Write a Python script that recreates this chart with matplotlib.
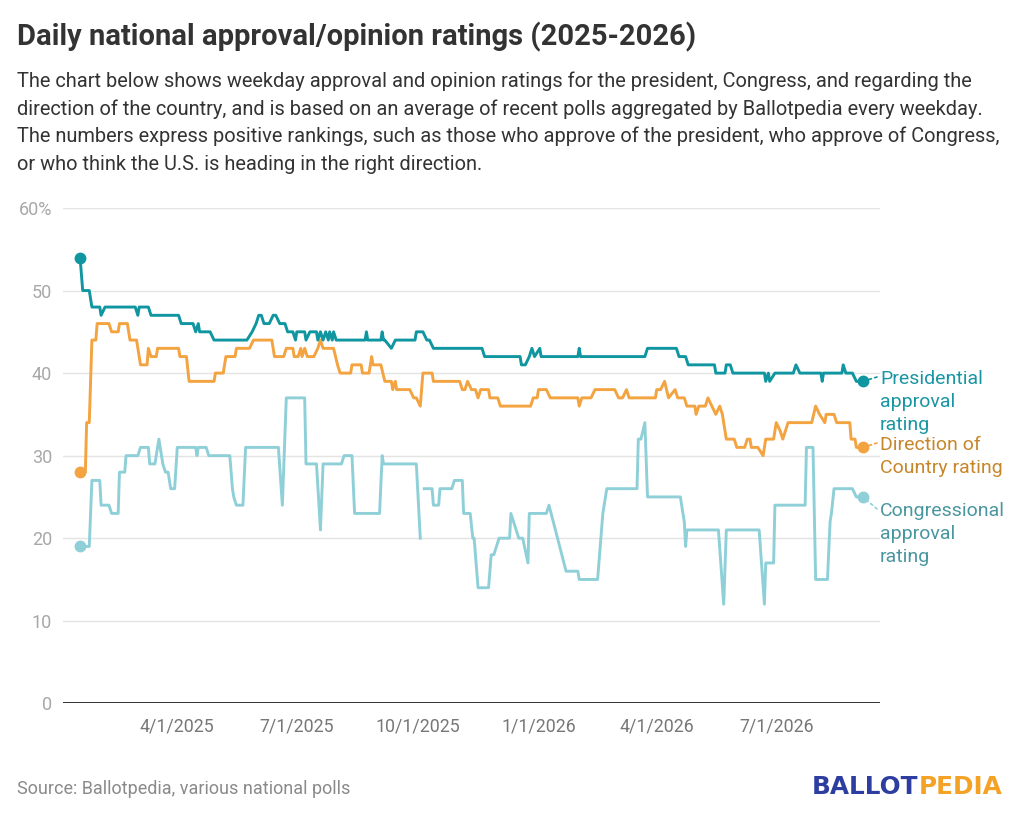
import numpy as np
import pandas as pd
import matplotlib
matplotlib.use("Agg")
import matplotlib.pyplot as plt

plt.rcParams['font.family'] = ['Roboto', 'DejaVu Sans']

# Presidential approval rating
pres_dates = [
    "2025-01-17", "2025-01-19", "2025-01-24", "2025-01-26", "2025-02-01", "2025-02-02", "2025-02-05",
    "2025-02-28", "2025-03-02", "2025-03-03", "2025-03-10", "2025-03-12", "2025-04-02", "2025-04-04",
    "2025-04-13", "2025-04-15", "2025-04-17", "2025-04-18", "2025-04-26", "2025-04-29", "2025-05-24",
    "2025-05-28", "2025-05-31", "2025-06-02", "2025-06-04", "2025-06-06", "2025-06-10", "2025-06-13",
    "2025-06-15", "2025-06-18", "2025-06-22", "2025-06-24", "2025-06-28", "2025-06-30", "2025-07-01",
    "2025-07-07", "2025-07-08", "2025-07-11", "2025-07-16", "2025-07-17", "2025-07-19", "2025-07-21",
    "2025-07-23", "2025-07-25", "2025-07-26", "2025-07-28", "2025-07-29", "2025-07-31", "2025-08-22",
    "2025-08-23", "2025-08-24", "2025-09-03", "2025-09-04", "2025-09-05", "2025-09-06", "2025-09-11",
    "2025-09-14", "2025-09-29", "2025-09-30", "2025-10-05", "2025-10-08", "2025-10-10", "2025-10-13",
    "2025-11-19", "2025-11-21", "2025-12-18", "2025-12-19", "2025-12-22", "2025-12-25", "2025-12-27",
    "2025-12-29", "2026-01-02", "2026-01-03", "2026-01-31", "2026-02-01", "2026-02-02", "2026-03-23",
    "2026-03-25", "2026-04-16", "2026-04-18", "2026-04-23", "2026-04-25", "2026-05-15", "2026-05-16",
    "2026-05-23", "2026-05-24", "2026-05-27", "2026-05-29", "2026-06-22", "2026-06-23", "2026-06-25",
    "2026-06-26", "2026-06-30", "2026-07-14", "2026-07-16", "2026-07-19", "2026-08-04", "2026-08-05",
    "2026-08-06", "2026-08-20", "2026-08-21", "2026-08-23", "2026-08-28", "2026-08-31", "2026-09-05",
]
pres_vals = [
    54, 50, 50, 48, 48, 47, 48,
    48, 47, 48, 48, 47, 47, 46,
    46, 45, 46, 45, 45, 44, 44,
    45, 46, 47, 47, 46, 46, 47,
    47, 46, 46, 45, 45, 44, 45,
    45, 44, 45, 45, 44, 45, 44,
    45, 44, 45, 44, 45, 44, 44,
    45, 44, 44, 45, 44, 44, 43,
    44, 44, 45, 45, 44, 44, 43,
    43, 42, 42, 41, 41, 42, 43,
    42, 43, 42, 42, 43, 42, 42,
    43, 43, 42, 42, 41, 41, 40,
    40, 41, 41, 40, 40, 39, 40,
    39, 40, 40, 41, 40, 40, 39,
    40, 40, 41, 40, 40, 39, 39,
]

# Direction of Country rating
dir_dates = [
    "2025-01-17", "2025-01-21", "2025-01-22", "2025-01-24", "2025-01-26", "2025-01-29", "2025-01-30",
    "2025-02-08", "2025-02-10", "2025-02-15", "2025-02-16", "2025-02-22", "2025-02-24", "2025-03-01",
    "2025-03-02", "2025-03-04", "2025-03-09", "2025-03-10", "2025-03-12", "2025-03-16", "2025-03-17",
    "2025-04-02", "2025-04-03", "2025-04-08", "2025-04-10", "2025-04-29", "2025-04-30", "2025-05-06",
    "2025-05-08", "2025-05-15", "2025-05-16", "2025-05-26", "2025-05-29", "2025-06-12", "2025-06-14",
    "2025-06-21", "2025-06-23", "2025-06-28", "2025-06-29", "2025-07-02", "2025-07-04", "2025-07-05",
    "2025-07-07", "2025-07-09", "2025-07-14", "2025-07-17", "2025-07-19", "2025-07-21", "2025-07-29",
    "2025-08-01", "2025-08-03", "2025-08-11", "2025-08-12", "2025-08-19", "2025-08-20", "2025-08-25",
    "2025-08-27", "2025-08-28", "2025-09-03", "2025-09-06", "2025-09-11", "2025-09-12", "2025-09-14",
    "2025-09-15", "2025-09-25", "2025-09-28", "2025-09-30", "2025-10-03", "2025-10-05", "2025-10-12",
    "2025-10-13", "2025-11-02", "2025-11-04", "2025-11-06", "2025-11-08", "2025-11-11", "2025-11-14",
    "2025-11-16", "2025-11-18", "2025-11-24", "2025-11-25", "2025-12-01", "2025-12-03", "2025-12-26",
    "2025-12-28", "2025-12-31", "2026-01-01", "2026-01-07", "2026-01-10", "2026-01-31", "2026-02-01",
    "2026-02-03", "2026-02-10", "2026-02-13", "2026-02-28", "2026-03-03", "2026-03-06", "2026-03-09",
    "2026-03-11", "2026-03-31", "2026-04-01", "2026-04-04", "2026-04-07", "2026-04-10", "2026-04-15",
    "2026-04-17", "2026-04-22", "2026-04-24", "2026-04-30", "2026-05-01", "2026-05-03", "2026-05-08",
    "2026-05-10", "2026-05-13", "2026-05-16", "2026-05-19", "2026-05-21", "2026-05-24", "2026-05-30",
    "2026-06-01", "2026-06-07", "2026-06-09", "2026-06-11", "2026-06-12", "2026-06-17", "2026-06-21",
    "2026-06-23", "2026-06-29", "2026-07-01", "2026-07-04", "2026-07-06", "2026-07-10", "2026-07-28",
    "2026-07-31", "2026-08-03", "2026-08-07", "2026-08-08", "2026-08-14", "2026-08-16", "2026-08-26",
    "2026-08-27", "2026-08-30", "2026-08-31", "2026-09-05",
]
dir_vals = [
    28, 28, 34, 34, 44, 44, 46,
    46, 45, 45, 46, 46, 44, 44,
    43, 41, 41, 43, 42, 42, 43,
    43, 42, 42, 39, 39, 40, 40,
    42, 42, 43, 43, 44, 44, 42,
    42, 43, 43, 42, 42, 43, 42,
    43, 42, 42, 43, 44, 43, 43,
    41, 40, 40, 41, 41, 40, 40,
    42, 41, 41, 39, 39, 38, 39,
    38, 38, 37, 37, 36, 40, 40,
    39, 39, 38, 38, 39, 38, 38,
    37, 38, 38, 37, 37, 36, 36,
    37, 37, 38, 38, 37, 37, 36,
    37, 37, 38, 38, 37, 37, 38,
    37, 37, 38, 38, 39, 37, 38,
    37, 37, 36, 36, 35, 36, 36,
    37, 36, 35, 36, 35, 32, 32,
    31, 31, 32, 32, 31, 31, 30,
    32, 32, 34, 33, 32, 34, 34,
    36, 35, 34, 35, 35, 34, 34,
    32, 32, 31, 31,
]

# Congressional approval rating (no data for a few days in early October 2025)
cong_dates = [
    "2025-01-17", "2025-01-24", "2025-01-26", "2025-02-01", "2025-02-02", "2025-02-08", "2025-02-10",
    "2025-02-15", "2025-02-16", "2025-02-20", "2025-02-21", "2025-03-02", "2025-03-04", "2025-03-10",
    "2025-03-11", "2025-03-15", "2025-03-16", "2025-03-18", "2025-03-21", "2025-03-23", "2025-03-25",
    "2025-03-27", "2025-03-30", "2025-04-01", "2025-04-15", "2025-04-16", "2025-04-17", "2025-04-23",
    "2025-04-25", "2025-05-11", "2025-05-13", "2025-05-14", "2025-05-16", "2025-05-21", "2025-05-23",
    "2025-06-17", "2025-06-20", "2025-06-23", "2025-07-07", "2025-07-08", "2025-07-16", "2025-07-19",
    "2025-07-21", "2025-08-04", "2025-08-06", "2025-08-12", "2025-08-14", "2025-09-02", "2025-09-04",
    "2025-09-05", "2025-09-30", "2025-10-03", "2025-10-04", "2025-10-06", "2025-10-12", "2025-10-13",
    "2025-10-17", "2025-10-18", "2025-10-27", "2025-10-29", "2025-11-04", "2025-11-05", "2025-11-10",
    "2025-11-12", "2025-11-13", "2025-11-16", "2025-11-24", "2025-11-26", "2025-11-28", "2025-12-02",
    "2025-12-10", "2025-12-11", "2025-12-17", "2025-12-20", "2025-12-24", "2025-12-25", "2026-01-07",
    "2026-01-09", "2026-01-22", "2026-01-31", "2026-02-01", "2026-02-15", "2026-02-16", "2026-02-19",
    "2026-02-22", "2026-03-17", "2026-03-18", "2026-03-20", "2026-03-23", "2026-03-25", "2026-04-19",
    "2026-04-21", "2026-04-22", "2026-04-23", "2026-04-24", "2026-05-18", "2026-05-22", "2026-05-24",
    "2026-06-18", "2026-06-22", "2026-06-23", "2026-06-29", "2026-06-30", "2026-07-23", "2026-07-24",
    "2026-07-29", "2026-07-31", "2026-08-09", "2026-08-11", "2026-08-12", "2026-08-14", "2026-08-28",
    "2026-08-31", "2026-09-05",
]
cong_vals = [
    19, 19, 27, 27, 24, 24, 23,
    23, 28, 28, 30, 30, 31, 31,
    29, 29, 30, 32, 29, 28, 28,
    26, 26, 31, 31, 30, 31, 31,
    30, 30, 26, 25, 24, 24, 31,
    31, 24, 37, 37, 29, 29, 21,
    29, 29, 30, 30, 23, 23, 30,
    29, 29, 20, np.nan, 26, 26, 24,
    24, 26, 26, 27, 27, 23, 23,
    20, 20, 14, 14, 18, 18, 20,
    20, 23, 20, 20, 17, 23, 23,
    24, 16, 16, 15, 15, 17, 23,
    26, 26, 32, 32, 34, 25, 25,
    23, 22, 19, 21, 21, 12, 21,
    21, 12, 17, 17, 24, 24, 31,
    31, 15, 15, 22, 23, 26, 26,
    25, 25,
]

series_names = ["Congressional\napproval\nrating", "Direction of\nCountry rating", "Presidential\napproval\nrating"]
line_colors = ["#8fd0d8", "#f3a340", "#0f96a1"]
label_colors = ["#4a969e", "#c8862a", "#1996a3"]

yticks = [0, 10, 20, 30, 40, 50, 60]
ytick_labels = ["0", "10", "20", "30", "40", "50", "60%"]
xtick_dates = ["2025-04-01", "2025-07-01", "2025-10-01", "2026-01-01", "2026-04-01", "2026-07-01"]
xtick_labels = ["4/1/2025", "7/1/2025", "10/1/2025", "1/1/2026", "4/1/2026", "7/1/2026"]

title = "Daily national approval/opinion ratings (2025-2026)"
subtitle_lines = [
    "The chart below shows weekday approval and opinion ratings for the president, Congress, and regarding the",
    "direction of the country, and is based on an average of recent polls aggregated by Ballotpedia every weekday.",
    "The numbers express positive rankings, such as those who approve of the president, who approve of Congress,",
    "or who think the U.S. is heading in the right direction.",
]
source = "Source: Ballotpedia, various national polls"

W, H = 1024, 816
fig = plt.figure(figsize=(W / 100, H / 100), dpi=100)
fig.patch.set_facecolor("white")

ax = fig.add_axes([63 / W, 1 - 703.3 / H, (880 - 63) / W, (703.3 - 208) / H])
ax.set_ylim(0, 60)
ax.set_xlim(pd.Timestamp("2025-01-04"), pd.Timestamp("2026-09-18"))

for s in ax.spines.values():
    s.set_visible(False)
ax.yaxis.grid(True, color="#e4e4e4", linewidth=1.0)
ax.set_axisbelow(True)
ax.axhline(0, color="#333333", linewidth=1.4, zorder=1)

ax.set_yticks(yticks)
ax.set_yticklabels(ytick_labels)
ax.set_xticks(pd.to_datetime(xtick_dates))
ax.set_xticklabels(xtick_labels)
ax.tick_params(axis="y", length=0, pad=8, labelsize=13, labelcolor="#a8a8a8")
ax.tick_params(axis="x", length=0, pad=10, labelsize=12.8, labelcolor="#777777")

all_dates = [cong_dates, dir_dates, pres_dates]
all_vals = [cong_vals, dir_vals, pres_vals]
for dates, vals, col in zip(all_dates, all_vals, line_colors):
    d = pd.to_datetime(dates)
    ax.plot(d, vals, color=col, linewidth=2.1, zorder=3)
    ax.plot([d[0], d[-1]], [vals[0], vals[-1]], "o", color=col, markersize=7.5,
            zorder=4, clip_on=False)

# end labels, one line of text at a time
label_baselines = [516, 450, 384]
line_gap = 23
for name, col, base, dates, vals, lcol in zip(series_names, label_colors, label_baselines,
                                              all_dates, all_vals, line_colors):
    for i, line in enumerate(name.split("\n")):
        fig.text(880 / W, 1 - (base + i * line_gap) / H, line, color=col, fontsize=14,
                 ha="left", va="baseline")
    ax.annotate("", xy=(pd.Timestamp(dates[-1]), vals[-1]),
                xytext=(877, H - (base - 7)), textcoords="figure pixels",
                arrowprops=dict(arrowstyle="-", color=lcol, linestyle=(0, (1.5, 2)),
                                linewidth=1.2, shrinkA=0, shrinkB=4))

fig.text(17 / W, 1 - 45 / H, title, fontsize=21, fontweight="bold", color="#333333",
         ha="left", va="baseline")
for i, line in enumerate(subtitle_lines):
    fig.text(17 / W, 1 - (87.3 + i * 27.5) / H, line, fontsize=14.4, color="#333333",
             ha="left", va="baseline")

fig.text(17 / W, 1 - 794 / H, source, fontsize=13, color="#8a8a8a", ha="left", va="baseline")

logo1 = fig.text(812 / W, 1 - 794 / H, "BALLOT", fontsize=17.8, fontweight="bold",
                 color="#2d3ea0", family="DejaVu Sans", ha="left", va="baseline")
ax.annotate("PEDIA", xy=(1, 0), xycoords=logo1, xytext=(0, 0), textcoords="offset points",
            fontsize=17.8, fontweight="bold", color="#f4a226", family="DejaVu Sans",
            ha="left", va="bottom", annotation_clip=False)

fig.savefig("out.png", dpi=100, facecolor="white")
